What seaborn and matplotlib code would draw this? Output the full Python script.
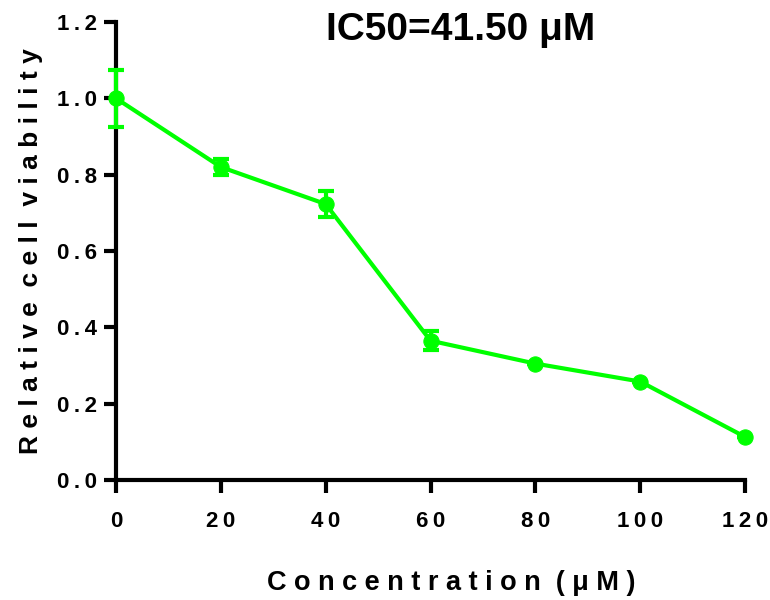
import matplotlib
matplotlib.use("Agg")
import matplotlib.pyplot as plt
import seaborn as sns
import pandas as pd

conc = [0, 20, 40, 60, 80, 100, 120]
viability = [1.0, 0.82, 0.723, 0.365, 0.305, 0.258, 0.113]
sd = [0.075, 0.02, 0.035, 0.025, 0.0, 0.0, 0.0]
x_ticks = [0, 20, 40, 60, 80, 100, 120]
y_ticks = [0.0, 0.2, 0.4, 0.6, 0.8, 1.0, 1.2]
title = "IC50=41.50 μM"
xlabel = "Concentration (μM)"
ylabel = "Relative cell viability"

sns.set_theme(style="ticks")
plt.rcParams['font.family'] = ['Liberation Sans', 'DejaVu Sans']
plt.rcParams['text.color'] = 'black'
plt.rcParams['axes.labelcolor'] = 'black'
plt.rcParams['xtick.color'] = 'black'
plt.rcParams['ytick.color'] = 'black'

def spaced(s):
    return "  ".join(" ".join(w) for w in s.split())

def thin(s):
    return "\u2009".join(s)

green = "#00FF00"
df = pd.DataFrame({"conc": conc, "viability": viability, "sd": sd})

fig = plt.figure(figsize=(7.7, 6), dpi=100)
ax = fig.add_axes([116/770, 120/600, (745-116)/770, (480-22)/600])
ax.errorbar(df["conc"], df["viability"], yerr=df["sd"], fmt="none",
            ecolor=green, elinewidth=3, capsize=6, capthick=3, zorder=3)
sns.lineplot(data=df, x="conc", y="viability", ax=ax, color=green,
             linewidth=3, marker="o", markersize=11, markeredgecolor=green,
             zorder=4)
ax.set_xlim(0, 120)
ax.set_ylim(0, 1.2)
ax.set_xticks(x_ticks)
ax.set_yticks(y_ticks)
ax.set_xticklabels([thin(str(v)) for v in x_ticks], fontsize=16, fontweight="bold")
ax.set_yticklabels([thin(f"{v:.1f}") for v in y_ticks], fontsize=16, fontweight="bold")
for sp in ["top", "right"]:
    ax.spines[sp].set_visible(False)
for sp in ["left", "bottom"]:
    ax.spines[sp].set_linewidth(3)
    ax.spines[sp].set_color("black")
ax.tick_params(axis="both", width=3, length=9, color="black", pad=5)
ax.tick_params(axis="x", pad=13)
ax.set_xlabel(spaced(xlabel), fontsize=19.5, fontweight="bold", labelpad=28)
ax.set_ylabel(spaced(ylabel), fontsize=19, fontweight="bold", labelpad=10)
ax.xaxis.label.set_x((451 - 116) / 629)
for sp in ax.spines.values():
    sp.set_clip_on(False)
for line in ax.lines:
    line.set_clip_on(False)
for c in ax.collections:
    c.set_clip_on(False)
fig.text(461/770, 1 - 30/600, title, fontsize=28, fontweight="bold",
         ha="center", va="center")
fig.savefig("out.png", dpi=100)
